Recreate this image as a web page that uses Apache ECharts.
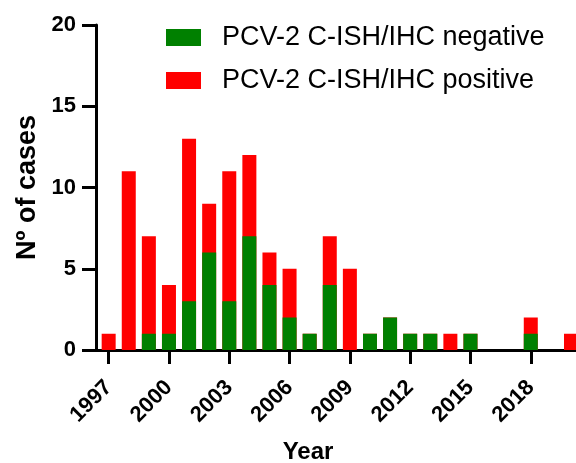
<!DOCTYPE html>
<html><head><meta charset="utf-8">
<script src="https://cdn.jsdelivr.net/npm/echarts@6/dist/echarts.min.js"></script>
<style>html,body{margin:0;padding:0;background:#fff}#c{width:576px;height:463px}</style>
</head><body><div id="c"></div>
<script>
const years = [1997,1998,1999,2000,2001,2002,2003,2004,2005,2006,2007,2008,2009,2010,2011,2012,2013,2014,2015,2016,2017,2018,2019,2020];
const negative = [0,0,1,1,3,6,3,7,4,2,1,4,0,1,2,1,1,0,1,0,0,1,0,0];
const positive = [1,11,6,3,10,3,8,5,2,3,0,3,5,0,0,0,0,1,0,0,0,1,0,1];
const xTickLabels = [1997,2000,2003,2006,2009,2012,2015,2018];
const yTicks = [0,5,10,15,20];
const seriesNames = ['PCV-2 C-ISH/IHC negative','PCV-2 C-ISH/IHC positive'];

// stacked: positive sits on top of negative -> draw total (red) behind negative (green)
const totals = years.map((y,i)=>negative[i]+positive[i]);

const F = 'Liberation Sans, Arial, sans-serif';
const chart = echarts.init(document.getElementById('c'), null, {renderer:'canvas'});
chart.setOption({
  animation:false,
  grid:{left:96, right:0, top:25, bottom:113, containLabel:false, outerBoundsMode:'none'},
  legend:{
    orient:'vertical', left:161, top:19, itemWidth:35, itemHeight:17, itemGap:16,
    icon:'rect',
    textStyle:{fontFamily:F, fontSize:27, color:'#000', padding:[0,0,0,16]},
    data:seriesNames
  },
  xAxis:{
    type:'value', min:1996.37, max:2020.25,
    splitLine:{show:false},
    axisLine:{show:true, lineStyle:{color:'#000', width:3}},
    axisTick:{show:true, length:14, lineStyle:{color:'#000', width:3}, customValues:xTickLabels},
    axisLabel:{rotate:45, margin:34, fontFamily:F, fontWeight:'bold', fontSize:22, color:'#000', customValues:xTickLabels, formatter:v=>String(v)},
    name:'Year', nameLocation:'middle', nameGap:90,
    nameTextStyle:{fontFamily:F, fontWeight:'bold', fontSize:24, color:'#000', padding:[0,56,0,0]}
  },
  yAxis:{
    type:'value', min:0, max:20, interval:5,
    splitLine:{show:false},
    axisLine:{show:true, lineStyle:{color:'#000', width:3}},
    axisTick:{show:true, length:14, lineStyle:{color:'#000', width:3}},
    axisLabel:{margin:20, fontFamily:F, fontWeight:'bold', fontSize:22, color:'#000'},
    name:'Nº of cases', nameLocation:'middle', nameRotate:90, nameGap:52,
    nameTextStyle:{fontFamily:F, fontWeight:'bold', fontSize:27, color:'#000'}
  },
  series:[
    {name:seriesNames[1], type:'bar', barWidth:14, barGap:'-100%', itemStyle:{color:'#ff0000'}, z:2,
     data:years.map((y,i)=>[y,totals[i]])},
    {name:seriesNames[0], type:'bar', barWidth:14, barGap:'-100%', itemStyle:{color:'#008000'}, z:3,
     data:years.map((y,i)=>[y,negative[i]])}
  ]
});
</script></body></html>
